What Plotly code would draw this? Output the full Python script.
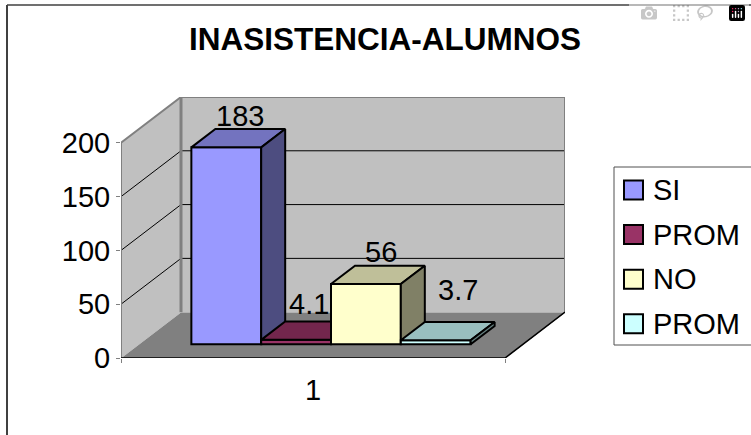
import plotly.graph_objects as go

TITLE = "INASISTENCIA-ALUMNOS"
SERIES = ["SI", "PROM", "NO", "PROM"]
VALUES = [183, 4.1, 56, 3.7]
CATEGORY = "1"
Y_TICKS = [0, 50, 100, 150, 200]

FRONT_COLORS = ["#9999FF", "#993366", "#FFFFCC", "#CCFFFF"]
TOP_COLORS = ["#7373BF", "#73264D", "#BFBF99", "#99BFBF"]
SIDE_COLORS = ["#4D4D80", "#4D1A33", "#808066", "#668080"]
LABEL_SHIFTS = [(2, -22), (1, -27), (3, -23), (10, -41)]

FONT = "Liberation Sans"
W, H = 751, 435

# plot area in pixels: front plane corner is (121, 358), back wall corner is (181, 312/97)
L, R, T, B = 121, 565, 97, 358
X_UNIT_PX = 384
Y_UNIT_PX = 216 / 200
DEPTH_DX = 60 / X_UNIT_PX
DEPTH_DY = 46 / Y_UNIT_PX
X_RANGE = [0, 1 + DEPTH_DX]
Y_RANGE = [0, 200 + DEPTH_DY]
GAP_WIDTH = 1.5
GAP_DEPTH = 1.5
BAR_W = 1 / (len(VALUES) + GAP_WIDTH)
D0 = GAP_DEPTH / 2 / (1 + GAP_DEPTH)
D1 = 1 - D0


def project(x, y, depth):
    return x + depth * DEPTH_DX, y + depth * DEPTH_DY


def polygon(points):
    xs, ys = zip(*[project(*p) for p in points])
    return list(xs) + [xs[0]], list(ys) + [ys[0]]


def px_x(px):
    return (px - L) / (R - L)


def px_y(py):
    return (B - py) / (B - T)


def face(points, color, line_color="black", width=2, xaxis="x", yaxis="y"):
    xs, ys = polygon(points)
    return go.Scatter(
        x=xs,
        y=ys,
        mode="lines",
        fill="toself",
        fillcolor=color,
        line=dict(color=line_color, width=width),
        xaxis=xaxis,
        yaxis=yaxis,
        hoverinfo="skip",
        showlegend=False,
    )


fig = go.Figure()

# walls and floor
fig.add_trace(face([(0, 0, 0), (1, 0, 0), (1, 0, 1), (0, 0, 1)], "#808080", "#808080", 1))
fig.add_trace(face([(0, 0, 0), (0, 200, 0), (0, 200, 1), (0, 0, 1)], "#C0C0C0", "#C0C0C0", 1))
fig.add_trace(face([(0, 0, 1), (0, 200, 1), (1, 200, 1), (1, 0, 1)], "#C0C0C0", "#C0C0C0", 1))

# gridlines go along the side wall and the back wall
grid_x, grid_y = [], []
for tick in Y_TICKS[1:-1]:
    for point in [(0, tick, 0), (0, tick, 1), (1, tick, 1)]:
        px, py = project(*point)
        grid_x.append(px)
        grid_y.append(py)
    grid_x.append(None)
    grid_y.append(None)
fig.add_trace(
    go.Scatter(x=grid_x, y=grid_y, mode="lines", line=dict(color="black", width=1), hoverinfo="skip", showlegend=False)
)

# wall outline, then the black front edges of the floor
back_x, back_y = zip(*[project(*p) for p in [(0, 0, 0), (0, 200, 0), (0, 200, 1), (1, 200, 1), (1, 0, 1)]])
fig.add_trace(
    go.Scatter(x=back_x, y=back_y, mode="lines", line=dict(color="#808080", width=2), hoverinfo="skip", showlegend=False)
)
inner_x, inner_y = zip(*[project(*p) for p in [(0, 0, 1), (0, 200, 1)]])
fig.add_trace(
    go.Scatter(x=inner_x, y=inner_y, mode="lines", line=dict(color="#808080", width=3), hoverinfo="skip", showlegend=False)
)
edge_x, edge_y = zip(*[project(*p) for p in [(0, 0, 0), (1, 0, 0), (1, 0, 1)]])
fig.add_trace(
    go.Scatter(x=edge_x, y=edge_y, mode="lines", line=dict(color="black", width=1.5), hoverinfo="skip", showlegend=False)
)

# one overlaid subplot per bar, so later bars paint over earlier ones
layout_axes = {}
for i, (name, value) in enumerate(zip(SERIES, VALUES)):
    n = i + 2
    xa, ya = f"x{n}", f"y{n}"
    left = GAP_WIDTH / 2 * BAR_W + i * BAR_W
    right = left + BAR_W
    fig.add_trace(
        go.Bar(
            x=[(left + right) / 2 + D0 * DEPTH_DX],
            y=[value],
            base=[D0 * DEPTH_DY],
            width=[BAR_W],
            name=name,
            marker=dict(color=FRONT_COLORS[i], line=dict(color="black", width=2)),
            xaxis=xa,
            yaxis=ya,
            showlegend=False,
        )
    )
    fig.add_trace(
        face([(left, value, D0), (right, value, D0), (right, value, D1), (left, value, D1)], TOP_COLORS[i], xaxis=xa, yaxis=ya)
    )
    fig.add_trace(
        face([(right, 0, D0), (right, value, D0), (right, value, D1), (right, 0, D1)], SIDE_COLORS[i], xaxis=xa, yaxis=ya)
    )
    layout_axes[f"xaxis{n}"] = dict(overlaying="x", range=X_RANGE, visible=False, fixedrange=True)
    layout_axes[f"yaxis{n}"] = dict(overlaying="y", range=Y_RANGE, visible=False, fixedrange=True)

annotations = []
for i, value in enumerate(VALUES):
    left = GAP_WIDTH / 2 * BAR_W + i * BAR_W
    lx, ly = project(left + BAR_W / 2, value, (D0 + D1) / 2)
    annotations.append(
        dict(
            x=lx,
            y=ly,
            xref="x",
            yref="y",
            text=str(value),
            showarrow=False,
            xanchor="center",
            yanchor="middle",
            xshift=LABEL_SHIFTS[i][0],
            yshift=-LABEL_SHIFTS[i][1],
            font=dict(family=FONT, size=29, color="black"),
        )
    )

# legend is drawn by hand: the swatches are bigger than plotly's own legend allows
shapes = [
    dict(type="line", xref="paper", yref="paper", x0=px_x(7), x1=px_x(7), y0=px_y(5), y1=px_y(H), line=dict(color="black", width=1.5)),
    dict(type="line", xref="paper", yref="paper", x0=px_x(7), x1=px_x(W), y0=px_y(5), y1=px_y(5), line=dict(color="#404040", width=1.5)),
    dict(type="rect", xref="paper", yref="paper", x0=px_x(614), x1=px_x(W + 5), y0=px_y(167), y1=px_y(345), line=dict(color="#505050", width=1), fillcolor="white"),
]
for i, name in enumerate(SERIES):
    cy = 190 + i * 44.6
    shapes.append(
        dict(
            type="rect",
            xref="paper",
            yref="paper",
            x0=px_x(624),
            x1=px_x(643),
            y0=px_y(cy - 9.5),
            y1=px_y(cy + 9.5),
            line=dict(color="black", width=2),
            fillcolor=FRONT_COLORS[i],
        )
    )
    annotations.append(
        dict(
            x=px_x(651),
            y=px_y(cy),
            xref="paper",
            yref="paper",
            text=name,
            xanchor="left",
            yanchor="middle",
            showarrow=False,
            font=dict(family=FONT, size=29, color="black"),
        )
    )

fig.update_layout(
    width=W,
    height=H,
    margin=dict(l=L, r=W - R, t=T, b=H - B, autoexpand=False),
    paper_bgcolor="white",
    plot_bgcolor="white",
    showlegend=False,
    barmode="overlay",
    title=dict(
        text=f"<b>{TITLE}</b>",
        x=385 / W,
        y=1 - 39 / H,
        xanchor="center",
        yanchor="middle",
        font=dict(family=FONT, size=31.5, color="black"),
    ),
    font=dict(family=FONT, size=29, color="black"),
    xaxis=dict(
        range=X_RANGE,
        tickvals=[0.5],
        ticktext=[CATEGORY],
        ticks="",
        showgrid=False,
        zeroline=False,
        ticklabelstandoff=12,
        minor=dict(tickvals=[0, 1], ticks="outside", ticklen=4, tickcolor="#808080", showgrid=False),
        fixedrange=True,
    ),
    yaxis=dict(
        range=Y_RANGE,
        tickvals=Y_TICKS,
        ticks="outside",
        ticklen=4,
        tickcolor="#808080",
        showgrid=False,
        zeroline=False,
        fixedrange=True,
    ),
    shapes=shapes,
    annotations=annotations,
    **layout_axes,
)

# browsers put an 8px margin on the body, which would push the fixed-size figure off the window
fig.write_html("out.html", post_script="document.body.style.margin = '0';")
